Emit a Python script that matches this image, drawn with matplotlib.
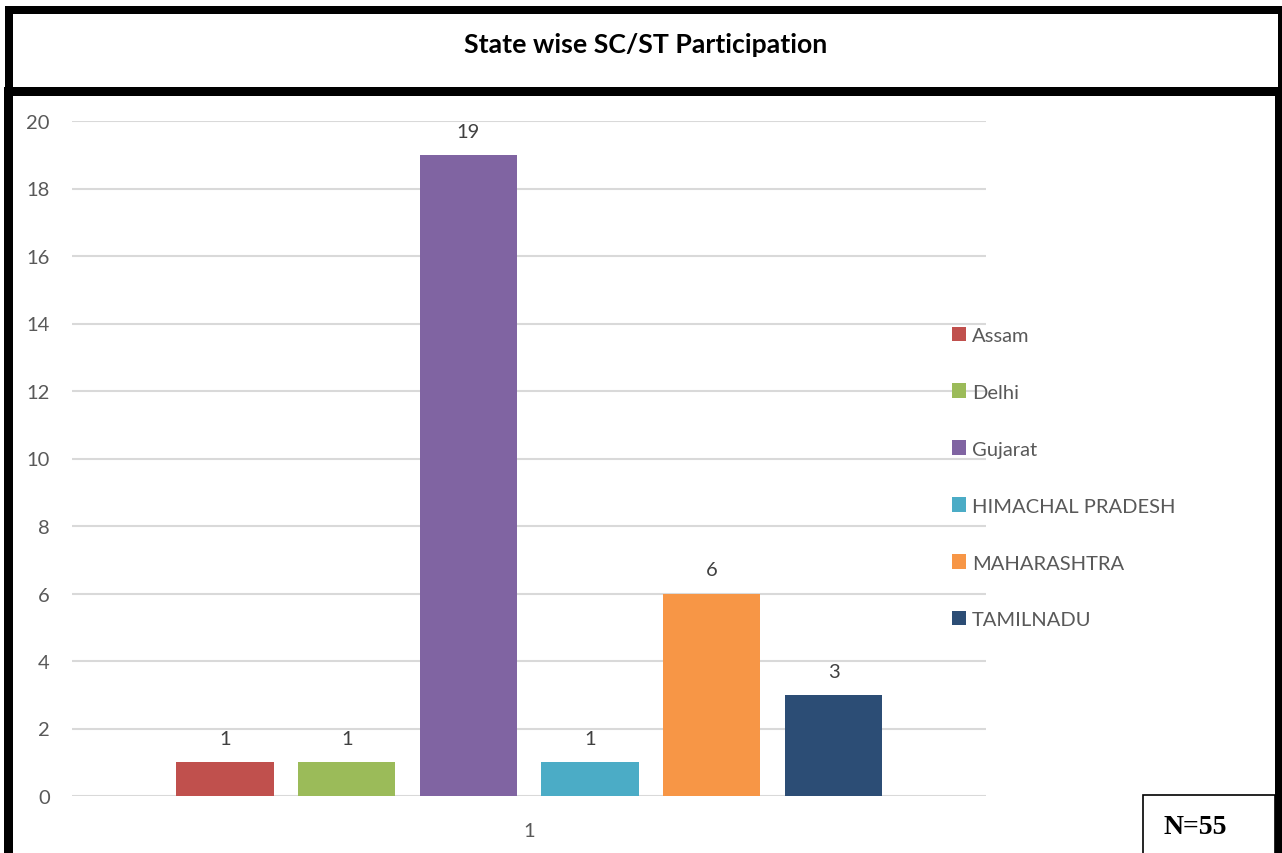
import matplotlib.pyplot as plt
from matplotlib.patches import Rectangle
from matplotlib.lines import Line2D

# data
states = ['Assam', 'Delhi', 'Gujarat', 'HIMACHAL PRADESH', 'MAHARASHTRA', 'TAMILNADU']
counts = [1, 1, 19, 1, 6, 3]
colors = ['#C0504D', '#9BBB59', '#8064A2', '#4BACC6', '#F79646', '#2C4D75']
category = '1'
title = 'State wise SC/ST Participation'
note = 'N=55'

W, H = 1282, 854
fig = plt.figure(figsize=(W / 100, H / 100), dpi=100)
fig.patch.set_facecolor('white')


def fx(x):
    return x / W


def fy(y):
    return 1 - y / H


ax = fig.add_axes([fx(72), fy(797), fx(986) - fx(72), fy(122) - fy(797)])

xs = list(range(len(states)))
for i, (s, v, c) in enumerate(zip(states, counts, colors)):
    ax.bar(xs[i], v, width=0.8, color=c, label=s, zorder=3)
    ax.text(xs[i], v + 0.45, str(v), ha='center', va='bottom',
            fontsize=14.5, color='#404040', family='Lato')

ax.set_ylim(0, 20)
ax.set_xlim(-1.257, 6.253)
ax.set_yticks(range(0, 21, 2))
ax.set_xticks([2.5])
ax.set_xticklabels([category])
ax.yaxis.grid(True, color='#d9d9d9', linewidth=1.5, zorder=0)
for sp in ax.spines.values():
    sp.set_visible(False)
ax.tick_params(axis='both', length=0, labelsize=14.5, labelcolor='#595959')
ax.tick_params(axis='y', pad=16)
ax.tick_params(axis='x', pad=19)
for lab in ax.get_xticklabels() + ax.get_yticklabels():
    lab.set_family('Lato')

leg = ax.legend(loc='center left', bbox_to_anchor=(fx(952), fy(478.5)),
                bbox_transform=fig.transFigure, frameon=False,
                borderpad=0, borderaxespad=0, handlelength=0.7,
                handleheight=0.7, handletextpad=0.3, labelspacing=1.98,
                prop={'family': 'Lato', 'size': 14.5})
for t in leg.get_texts():
    t.set_color('#595959')

# title box
fig.text(fx(646), fy(45), title, ha='center', va='center',
         fontsize=19.2, fontweight='bold', family='Lato', color='black')


def line(x0, y0, x1, y1, lw, color='black'):
    fig.add_artist(Line2D([fx(x0), fx(x1)], [fy(y0), fy(y1)],
                          transform=fig.transFigure, color=color,
                          linewidth=lw * 0.72, solid_capstyle='projecting'))


# title frame
line(9, 11, 1279.5, 11, 8)
line(9, 11, 9, 92, 8)
line(1279.5, 11, 1279.5, 92, 5)
line(9, 92, 1279.5, 92, 9)
# chart frame
line(7.5, 92, 7.5, 870, 9)
line(1278.5, 92, 1278.5, 870, 8)

# N box
fig.add_artist(Rectangle((fx(1143), fy(870)), fx(1275) - fx(1143), fy(796) - fy(870),
                         transform=fig.transFigure, facecolor='white',
                         edgecolor='black', linewidth=1.2))
fig.text(fx(1164), fy(834), note, ha='left', va='baseline', fontsize=20,
         fontweight='bold', family='Liberation Serif', color='black')

fig.savefig('out.png', dpi=100)
